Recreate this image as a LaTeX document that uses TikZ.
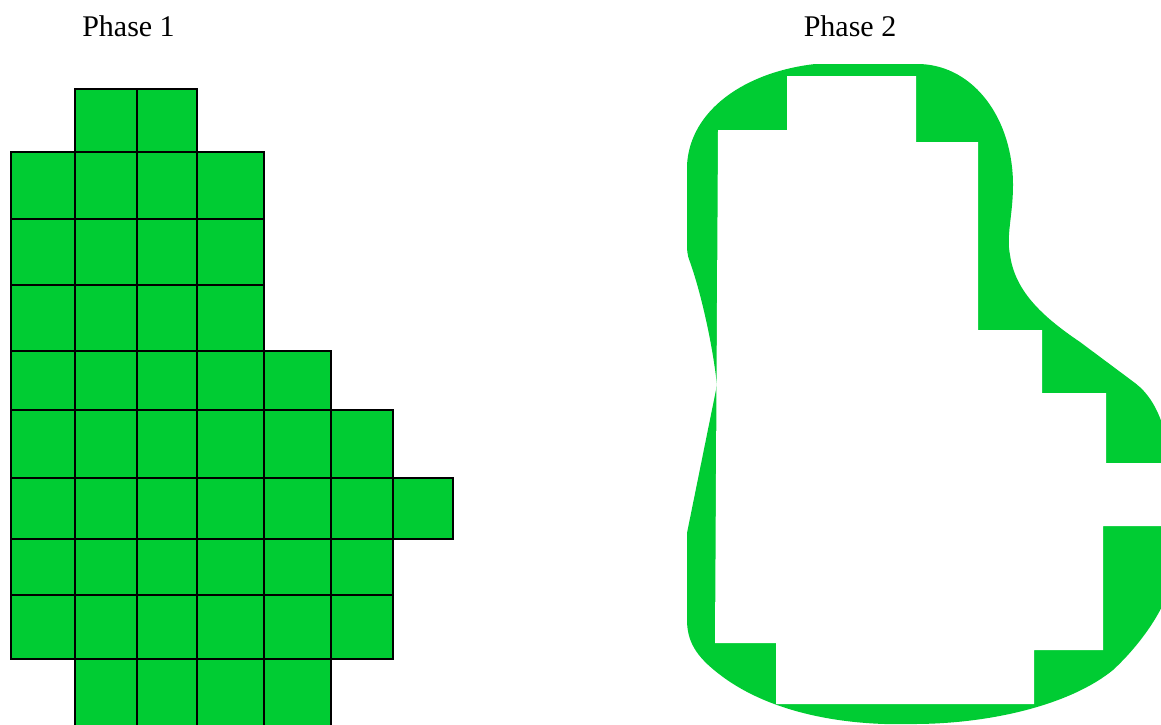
\documentclass[tikz,border=0pt]{standalone}
\usepackage{fontspec}
\setmainfont{Liberation Serif}
\definecolor{leafgreen}{RGB}{0,204,51}

\begin{document}
\begin{tikzpicture}[
    x=1pt, y=-1pt,
    cell/.style={fill=leafgreen, draw=black, line width=1.6pt},
    blob/.style={fill=leafgreen, draw=none},
    title/.style={font=\fontsize{30}{36}\selectfont, anchor=base, inner sep=0pt}
]

% Rahmen
\useasboundingbox (0,0) rectangle (1161,724);

% Phase 1: Raster
\foreach \ya/\yb/\xs in {
    89/152/{75/137,137/197},
    152/219/{11/75,75/137,137/197,197/264},
    219/285/{11/75,75/137,137/197,197/264},
    285/351/{11/75,75/137,137/197,197/264},
    351/410/{11/75,75/137,137/197,197/264,264/331},
    410/478/{11/75,75/137,137/197,197/264,264/331,331/393},
    478/539/{11/75,75/137,137/197,197/264,264/331,331/393,393/453},
    539/595/{11/75,75/137,137/197,197/264,264/331,331/393},
    595/659/{11/75,75/137,137/197,197/264,264/331,331/393},
    659/740/{75/137,137/197,197/264,264/331}} {
  \foreach \xa/\xb in \xs {
    \filldraw[cell] (\xa,\ya) rectangle (\xb,\yb);
  }
}

% Phase 2: Kontur
\begin{scope}
\clip (0,0) rectangle (1161,724);
\fill[blob] (815,64) -- (920,64)
    .. controls (975,66) and (1013,120) .. (1013,185)
    .. controls (1013,215) and (1006,235) .. (1010,255)
    .. controls (1015,290) and (1040,315) .. (1080,342)
    -- (1135,383)
    .. controls (1160,402) and (1172,440) .. (1172,500)
    -- (1172,580)
    .. controls (1165,610) and (1140,645) .. (1113,670)
    .. controls (1070,705) and (990,724) .. (913,724)
    .. controls (850,726) and (775,715) .. (723,677)
    .. controls (700,660) and (687,645) .. (687,620)
    -- (687,533) -- (717,385)
    .. controls (712,340) and (700,290) .. (690,262)
    .. controls (687,255) and (687,250) .. (687,240)
    -- (687,165)
    .. controls (690,110) and (745,72) .. (815,64) -- cycle;
\fill[white] (787,76) -- (916,76) -- (916,142) -- (978,142)
    -- (978,330) -- (1042,330) -- (1042,393) -- (1106,393)
    -- (1106,463) -- (1170,463) -- (1170,526) -- (1103,526)
    -- (1103,650) -- (1034,650) -- (1034,704) -- (776,704)
    -- (776,643) -- (715,643) -- (718,130) -- (787,130) -- cycle;
\end{scope}

% Titel
\node[title] (phaseone) at (128.5,36) {Phase 1};
\node[title] (phasetwo) at (850,36) {Phase 2};

\end{tikzpicture}
\end{document}
